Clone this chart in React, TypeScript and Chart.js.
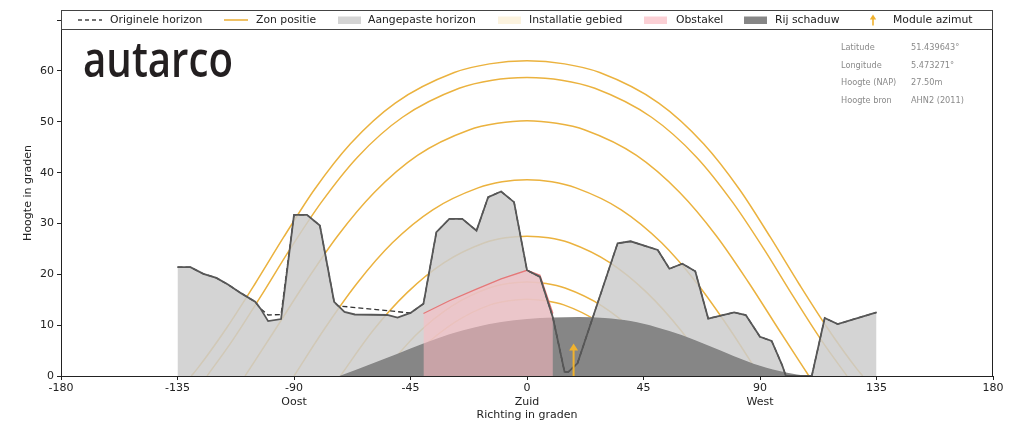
import React, { useEffect, useRef } from 'react';
import { Chart, registerables } from 'chart.js';

Chart.register(...registerables);

// ---------- data ----------
const xMin = -180;
const xMax = 180;
const xStep = 45;
const yMin = 0;
const yMax = 72;
const yStep = 10;
const hiddenYTick = 70;

const directionTicks = [-90, 0, 90];
const directionLabels = ['Oost', 'Zuid', 'West'];

const xTitle = 'Richting in graden';
const yTitle = 'Hoogte in graden';

const legendLabels = [
  'Originele horizon',
  'Zon positie',
  'Aangepaste horizon',
  'Installatie gebied',
  'Obstakel',
  'Rij schaduw',
  'Module azimut',
];

const infoLabels = ['Latitude', 'Longitude', 'Hoogte (NAP)', 'Hoogte bron'];
const infoValues = ['51.439643°', '5.473271°', '27.50m', 'AHN2 (2011)'];
const logoText = 'autarco';

// adjusted horizon (Aangepaste horizon)
const horizonAz = [-135, -130, -125, -120, -115.5, -110.5, -105, -103, -100, -95, -90, -85, -80, -74.5, -70.5, -66.5, -54, -50, -45, -40, -35, -30, -25, -19.5, -15, -10, -5, 0, 5, 10, 14.5, 16, 19.5, 35, 40, 50.5, 55, 60, 65, 70, 80, 84.5, 90, 94.5, 98.5, 100, 110, 115, 120, 127, 135];
const horizonAlt = [21.4, 21.4, 20.1, 19.3, 18.0, 16.3, 14.6, 13.3, 10.8, 11.2, 31.7, 31.7, 29.6, 14.6, 12.6, 12.1, 12.0, 11.5, 12.4, 14.2, 28.3, 30.9, 30.9, 28.6, 35.2, 36.3, 34.2, 20.8, 19.5, 11.5, 0.8, 0.8, 2.5, 26.1, 26.5, 24.8, 21.1, 22.1, 20.6, 11.3, 12.5, 12.0, 7.7, 6.9, 2.2, 0, 0, 11.4, 10.2, 11.3, 12.5];

// original horizon (Originele horizon)
const originalAz = [-135, -130, -125, -120, -115.5, -110.5, -105, -103, -100, -95, -90, -85, -80, -74.5, -73, -45, -40, -35, -30, -25, -19.5, -15, -10, -5, 0, 5, 10, 14.5, 16, 19.5, 35, 40, 50.5, 55, 60, 65, 70, 80, 84.5, 90, 94.5, 98.5, 100, 110, 115, 120, 127, 135];
const originalAlt = [21.4, 21.4, 20.1, 19.3, 18.0, 16.3, 14.6, 13.3, 12.0, 12.1, 31.7, 31.7, 29.6, 14.6, 13.8, 12.4, 14.2, 28.3, 30.9, 30.9, 28.6, 35.2, 36.3, 34.2, 20.8, 19.5, 11.5, 0.8, 0.8, 2.5, 26.1, 26.5, 24.8, 21.1, 22.1, 20.6, 11.3, 12.5, 12.0, 7.7, 6.9, 2.2, 0, 0, 11.4, 10.2, 11.3, 12.5];

// obstacle (Obstakel)
const obstacleAz = [-40, -30, -20, -10, 0, 5, 10];
const obstacleAlt = [12.3, 14.8, 17.0, 19.1, 20.8, 19.8, 12.3];

// row shadow (Rij schaduw)
const shadowAz = [-72.5, -60, -50, -40, -30, -20, -10, 0, 10, 20, 30, 40, 50, 60, 70, 80, 90, 100, 108.5];
const shadowAlt = [0, 2.4, 4.4, 6.4, 8.2, 9.6, 10.6, 11.2, 11.5, 11.6, 11.4, 10.8, 9.6, 8.0, 6.0, 3.9, 2.0, 0.7, 0];

// sun paths (Zon positie)
const sunJunAz = [-129.7, -127.4, -116.1, -105.1, -94.0, -82.1, -68.2, -50.9, -28.1, -14.5, 0, 14.5, 28.1, 50.9, 68.2, 82.1, 94.0, 105.1, 116.1, 127.4, 129.7];
const sunJunAlt = [0, 1.4, 9.4, 18.1, 27.3, 36.7, 45.7, 53.7, 59.7, 61.4, 62.0, 61.4, 59.7, 53.7, 45.7, 36.7, 27.3, 18.1, 9.4, 1.4, 0];
const sunMayAz = [-123.6, -114.0, -102.9, -91.6, -79.4, -65.4, -48.1, -26.2, -13.4, 0, 13.4, 26.2, 48.1, 65.4, 79.4, 91.6, 102.9, 114.0, 123.6];
const sunMayAlt = [0, 6.8, 15.6, 24.9, 34.2, 43.1, 50.9, 56.6, 58.2, 58.7, 58.2, 56.6, 50.9, 43.1, 34.2, 24.9, 15.6, 6.8, 0];
const sunAprAz = [-108.9, -97.3, -85.6, -73.1, -59.0, -42.3, -22.4, -11.4, 0, 11.4, 22.4, 42.3, 59.0, 73.1, 85.6, 97.3, 108.9];
const sunAprAlt = [0, 9.1, 18.4, 27.6, 36.1, 43.4, 48.4, 49.7, 50.2, 49.7, 48.4, 43.4, 36.1, 27.6, 18.4, 9.1, 0];
const sunMarAz = [-90, -78.2, -65.7, -52.0, -36.4, -18.9, -9.6, 0, 9.6, 18.9, 36.4, 52.0, 65.7, 78.2, 90];
const sunMarAlt = [0, 9.3, 18.2, 26.2, 32.7, 37.0, 38.2, 38.6, 38.2, 37.0, 32.7, 26.2, 18.2, 9.3, 0];
const sunFebAz = [-72.1, -59.4, -46.3, -32.0, -16.4, -8.3, 0, 8.3, 16.4, 32.0, 46.3, 59.4, 72.1];
const sunFebAlt = [0, 9.0, 16.4, 22.3, 26.2, 27.2, 27.5, 27.2, 26.2, 22.3, 16.4, 9.0, 0];
const sunJanAz = [-56.5, -54.4, -42.2, -28.9, -14.7, -7.4, 0, 7.4, 14.7, 28.9, 42.2, 54.4, 56.5];
const sunJanAlt = [0, 1.4, 8.4, 13.8, 17.3, 18.2, 18.5, 18.2, 17.3, 13.8, 8.4, 1.4, 0];
const sunDecAz = [-50.3, -40.7, -27.8, -14.2, -7.1, 0, 7.1, 14.2, 27.8, 40.7, 50.3];
const sunDecAlt = [0, 5.4, 10.6, 14.0, 14.8, 15.1, 14.8, 14.0, 10.6, 5.4, 0];

const sunPathsAz = [sunJunAz, sunMayAz, sunAprAz, sunMarAz, sunFebAz, sunJanAz, sunDecAz];
const sunPathsAlt = [sunJunAlt, sunMayAlt, sunAprAlt, sunMarAlt, sunFebAlt, sunJanAlt, sunDecAlt];

// module azimuth arrow
const moduleAzimuth = 18;
const moduleArrowLength = 6.4;

// ---------- styles ----------
const SUN = '#ebb23e';
const ARROW = '#f0b22e';
const HORIZON_FILL = 'rgba(205,205,205,0.85)';
const HORIZON_LINE = '#575757';
const SHADOW = '#868686';
const OBST_FILL = 'rgba(255,188,195,0.55)';
const OBST_LINE = '#e57878';
const TEXT = '#222222';
const FONT = '"DejaVu Sans", sans-serif';

const pts = (xs: number[], ys: number[]) => xs.map((x, i) => ({ x, y: ys[i] }));

const decorPlugin = {
  id: 'decor',
  afterDatasetsDraw(chart: any) {
    const { ctx, scales } = chart;
    const x = scales.x.getPixelForValue(moduleAzimuth);
    const y0 = scales.y.getPixelForValue(0);
    const y1 = scales.y.getPixelForValue(moduleArrowLength);
    ctx.save();
    ctx.strokeStyle = ARROW;
    ctx.fillStyle = ARROW;
    ctx.lineWidth = 2;
    ctx.beginPath();
    ctx.moveTo(x, y0);
    ctx.lineTo(x, y1 + 5);
    ctx.stroke();
    ctx.beginPath();
    ctx.moveTo(x, y1);
    ctx.lineTo(x - 4.5, y1 + 7);
    ctx.lineTo(x + 4.5, y1 + 7);
    ctx.closePath();
    ctx.fill();
    ctx.restore();
  },
  afterDraw(chart: any) {
    const { ctx, chartArea } = chart;
    const L = chartArea.left + 0.5;
    const R = chartArea.right - 0.5;
    const T = chartArea.top + 0.5;
    const B = chartArea.bottom + 0.5;
    ctx.save();
    // frame
    ctx.strokeStyle = TEXT;
    ctx.lineWidth = 1;
    ctx.strokeRect(L, T, R - L, B - T);

    // legend box
    const lh = 19;
    ctx.fillStyle = '#ffffff';
    ctx.fillRect(L, T, R - L, lh);
    ctx.strokeStyle = '#444';
    ctx.strokeRect(L, T, R - L, lh);
    const cy = T + lh / 2;
    const ox = chartArea.left;
    ctx.font = `10.8px ${FONT}`;
    ctx.textBaseline = 'middle';
    ctx.textAlign = 'left';
    // 1 dashed
    ctx.strokeStyle = '#444';
    ctx.lineWidth = 1.3;
    ctx.setLineDash([4, 3]);
    ctx.beginPath();
    ctx.moveTo(ox + 17, cy);
    ctx.lineTo(ox + 41, cy);
    ctx.stroke();
    ctx.setLineDash([]);
    // 2 sun line
    ctx.strokeStyle = SUN;
    ctx.lineWidth = 1.6;
    ctx.beginPath();
    ctx.moveTo(ox + 163, cy);
    ctx.lineTo(ox + 187, cy);
    ctx.stroke();
    // patches
    const patch = (x: number, color: string) => {
      ctx.fillStyle = color;
      ctx.fillRect(ox + x, cy - 3.5, 23, 7.5);
    };
    patch(277, '#d4d4d4');
    patch(437, '#fcf3df');
    patch(583, '#fbd0d5');
    patch(683, SHADOW);
    // arrow
    const ax = ox + 812;
    ctx.strokeStyle = ARROW;
    ctx.fillStyle = ARROW;
    ctx.lineWidth = 1.6;
    ctx.beginPath();
    ctx.moveTo(ax, cy + 5.5);
    ctx.lineTo(ax, cy - 1.5);
    ctx.stroke();
    ctx.beginPath();
    ctx.moveTo(ax, cy - 5.5);
    ctx.lineTo(ax - 3.2, cy - 0.5);
    ctx.lineTo(ax + 3.2, cy - 0.5);
    ctx.closePath();
    ctx.fill();
    // texts
    const textX = [49, 195, 307, 468, 615, 714, 832];
    ctx.fillStyle = TEXT;
    legendLabels.forEach((t, i) => ctx.fillText(t, ox + textX[i], cy + 0.5));

    // info block
    ctx.font = `8.2px ${FONT}`;
    ctx.fillStyle = '#8a8a8a';
    const rowY = [48, 65.5, 83, 100.5];
    infoLabels.forEach((t, i) => ctx.fillText(t, 841, rowY[i]));
    infoValues.forEach((t, i) => ctx.fillText(t, 911, rowY[i]));

    // logo
    ctx.font = '600 48px "Open Sans", sans-serif';
    ctx.textBaseline = 'alphabetic';
    const w = ctx.measureText(logoText).width;
    ctx.translate(83, 77);
    ctx.scale(150 / w, 1);
    ctx.fillStyle = '#231f20';
    ctx.fillText(logoText, 0, 0);
    ctx.restore();
  },
};

export default function App() {
  const ref = useRef<HTMLCanvasElement | null>(null);

  useEffect(() => {
    if (!ref.current) return;
    const sunSets = sunPathsAz.map((az, i) => ({
      data: pts(az, sunPathsAlt[i]),
      borderColor: SUN,
      borderWidth: 1.5,
      pointRadius: 0,
      fill: false,
      cubicInterpolationMode: 'monotone',
      order: 10 + i,
    }));
    const datasets: any[] = [
      {
        data: pts(horizonAz, horizonAlt),
        borderColor: HORIZON_LINE,
        borderWidth: 1.8,
        pointRadius: 0,
        fill: false,
        tension: 0,
        order: 1,
      },
      {
        data: pts(originalAz, originalAlt),
        borderColor: '#333',
        borderWidth: 1.3,
        borderDash: [5, 3],
        pointRadius: 0,
        fill: false,
        tension: 0,
        order: 2,
      },
      {
        data: pts(obstacleAz, obstacleAlt),
        borderColor: OBST_LINE,
        borderWidth: 1.3,
        backgroundColor: OBST_FILL,
        pointRadius: 0,
        fill: 'origin',
        tension: 0,
        order: 3,
      },
      {
        data: pts(shadowAz, shadowAlt),
        borderColor: 'rgba(0,0,0,0)',
        borderWidth: 0,
        backgroundColor: SHADOW,
        pointRadius: 0,
        fill: 'origin',
        cubicInterpolationMode: 'monotone',
        order: 4,
      },
      {
        data: pts(horizonAz, horizonAlt),
        borderColor: 'rgba(0,0,0,0)',
        borderWidth: 0,
        backgroundColor: HORIZON_FILL,
        pointRadius: 0,
        fill: 'origin',
        tension: 0,
        order: 5,
      },
      ...sunSets,
    ];

    const chart = new Chart(ref.current, {
      type: 'line',
      data: { datasets },
      plugins: [decorPlugin],
      options: {
        responsive: false,
        animation: false,
        events: [],
        layout: { padding: { top: 10, right: 31, left: 0, bottom: 0 } },
        plugins: { legend: { display: false }, tooltip: { enabled: false } },
        scales: {
          x: {
            type: 'linear',
            min: xMin,
            max: xMax,
            afterFit: (s: any) => { s.height = 57; },
            ticks: {
              stepSize: xStep,
              autoSkip: false,
              maxRotation: 0,
              padding: 2,
              color: TEXT,
              font: { family: FONT, size: 11 },
              callback: (v: any) => {
                const idx = directionTicks.indexOf(Number(v));
                return idx >= 0 ? [String(v), directionLabels[idx]] : String(v);
              },
            },
            grid: { display: true, drawOnChartArea: false, drawTicks: true, tickLength: 4, color: TEXT },
            border: { display: false },
            title: {
              display: true,
              text: xTitle,
              color: TEXT,
              font: { family: FONT, size: 11 },
              padding: { top: 0, bottom: 11 },
            },
          },
          y: {
            type: 'linear',
            min: yMin,
            max: yMax,
            afterFit: (s: any) => { s.width = 61; },
            ticks: {
              stepSize: yStep,
              includeBounds: false,
              padding: 3,
              color: TEXT,
              font: { family: FONT, size: 11 },
              callback: (v: any) => (Number(v) === hiddenYTick ? '' : String(v)),
            },
            grid: { display: true, drawOnChartArea: false, drawTicks: true, tickLength: 4, color: TEXT },
            border: { display: false },
            title: {
              display: true,
              text: yTitle,
              color: TEXT,
              font: { family: FONT, size: 11 },
              padding: { top: 22, bottom: 0 },
            },
          },
        },
      } as any,
    });
    return () => chart.destroy();
  }, []);

  return (
    <div style={{ position: 'absolute', left: 0, top: 0, width: 1024, height: 433, background: '#fff' }}>
      <canvas ref={ref} width={1024} height={433} style={{ width: 1024, height: 433, display: 'block' }} />
    </div>
  );
}
